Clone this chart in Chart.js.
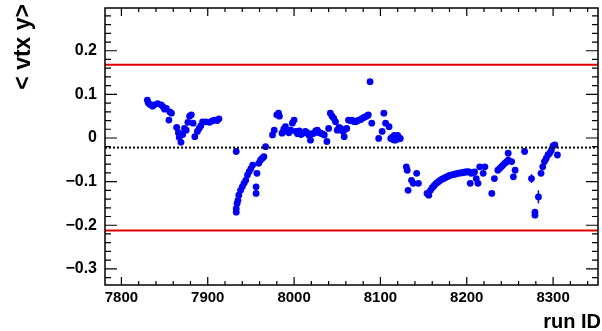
<!DOCTYPE html>
<html>
<head>
<meta charset="utf-8">
<script src="https://cdn.jsdelivr.net/npm/chart.js@4/dist/chart.umd.min.js"></script>
<style>
	body { margin: 0; background: #fff; }
</style>
</head>
<body>
<canvas id="plot" width="602" height="331"></canvas>
<script>
// run numbers and mean vertex y
const runs = [
	7830, 7831, 7833, 7836, 7838, 7842, 7846, 7848, 7850, 7852, 7855, 7856, 7858,
	7864, 7866, 7867, 7869, 7871, 7873, 7875, 7877, 7879, 7881, 7883, 7885, 7888,
	7890, 7892, 7894, 7898, 7902, 7905, 7908, 7911, 7913,
	7933, 7933, 7933, 7934, 7935, 7936, 7938, 7940, 7942, 7944, 7946, 7948, 7950,
	7952, 7956, 7956, 7957, 7959, 7961, 7963, 7965, 7967,
	7975, 7977, 7980, 7982, 7983, 7986, 7988, 7990, 7992, 7994, 7996, 7998, 8000,
	8002, 8004, 8006, 8008, 8010, 8013, 8015, 8017, 8019, 8021, 8023, 8025, 8027,
	8029, 8031, 8033, 8035, 8038, 8040, 8042, 8044, 8046, 8048, 8050, 8052, 8054,
	8056, 8058, 8058, 8061, 8063, 8065, 8067, 8069, 8071, 8073, 8075, 8077, 8079,
	8081, 8083, 8085, 8086, 8088, 8090, 8098, 8102, 8104, 8106, 8110, 8112, 8114,
	8115, 8116, 8117, 8118, 8119, 8120, 8121, 8122, 8123,
	8130, 8131, 8132, 8136, 8138, 8142, 8144, 8154, 8156, 8158, 8160, 8162, 8164,
	8166, 8168, 8170, 8172, 8174, 8176, 8178, 8180, 8182, 8184, 8186, 8188, 8190,
	8192, 8194, 8196, 8198, 8200, 8202, 8204, 8205, 8207, 8209, 8211, 8213, 8215,
	8219, 8221, 8229, 8232, 8236, 8238, 8240, 8242, 8244, 8246, 8248, 8248, 8252,
	8254, 8256, 8267, 8275, 8279, 8279, 8283, 8286, 8288, 8290, 8292, 8294, 8296,
	8298, 8300, 8302, 8305
];

const vtxY = [
	0.087, 0.081, 0.077, 0.073, 0.076, 0.079, 0.076, 0.072, 0.066, 0.068, 0.041, 0.060, 0.057,
	0.024, 0.012, 0.001, -0.010, 0.008, 0.022, 0.018, 0.036, 0.050, 0.053, 0.034, 0.003, 0.015,
	0.022, 0.028, 0.037, 0.037, 0.036, 0.039, 0.041, 0.040, 0.044,
	-0.031, -0.170, -0.162, -0.150, -0.143, -0.131, -0.120, -0.112, -0.104, -0.097, -0.085, -0.077, -0.070,
	-0.062, -0.112, -0.127, -0.081, -0.058, -0.051, -0.047, -0.043, -0.020,
	0.007, 0.018, 0.053, 0.057, 0.050, 0.011, 0.020, 0.026, 0.015, 0.012, 0.018, 0.034, 0.041,
	0.015, 0.010, 0.016, 0.008, 0.011, 0.015, 0.012, 0.007, -0.005, 0.010, 0.011, 0.016, 0.018,
	0.012, 0.011, 0.009, 0.007, -0.008, 0.022, 0.057, 0.050, 0.045, 0.037, 0.018, 0.024, 0.022,
	0.016, 0.018, 0.003, 0.022, 0.041, 0.040, 0.041, 0.038, 0.037, 0.039, 0.041, 0.042, 0.045,
	0.047, 0.049, 0.051, 0.053, 0.129, 0.034, -0.001, 0.015, 0.057, 0.034, 0.026, -0.001, 0.002,
	-0.004, 0.006, -0.005, 0.003, -0.003, 0.006, 0.000, -0.002, -0.001,
	-0.066, -0.074, -0.120, -0.097, -0.104, -0.081, -0.104, -0.127, -0.131, -0.120, -0.114, -0.110, -0.105,
	-0.102, -0.099, -0.096, -0.094, -0.092, -0.090, -0.088, -0.086, -0.085, -0.084, -0.083, -0.082, -0.081,
	-0.080, -0.080, -0.079, -0.078, -0.078, -0.077, -0.104, -0.081, -0.079, -0.078, -0.093, -0.104, -0.066,
	-0.081, -0.066, -0.127, -0.093, -0.074, -0.070, -0.066, -0.062, -0.058, -0.055, -0.051, -0.035, -0.054,
	-0.089, -0.074, -0.031, -0.093, -0.170, -0.177, -0.135, -0.081, -0.066, -0.054, -0.047, -0.039, -0.035,
	-0.028, -0.018, -0.016, -0.039
];

// the few points whose error bars stick out of the marker
const errRuns = [8275, 8283];
const errVals = [-0.093, -0.135];
const errSize = [0.010, 0.015];

const meanY = -0.022;
const limitHigh = 0.168;
const limitLow = -0.212;

const xTicks = [7800, 7900, 8000, 8100, 8200, 8300];
const yTicks = [-0.3, -0.2, -0.1, 0, 0.1, 0.2];

const xMin = 7781, xMax = 8352;
const yMin = -0.337, yMax = 0.298;

const font = 'Liberation Sans, Arial, Helvetica, sans-serif';

function hline(y)
{
	return [{ x: xMin, y: y }, { x: xMax, y: y }];
}

// ROOT style frame with ticks on the inside of all four sides
const framePlugin =
{
	id: 'frame',
	afterDraw(chart)
	{
		const c = chart.ctx;
		const a = chart.chartArea;
		const sx = chart.scales.x;
		const sy = chart.scales.y;

		c.save();

		// error bars
		c.strokeStyle = '#0000ff';
		c.lineWidth = 1.5;
		for (let i = 0; i < errRuns.length; ++i)
		{
			const px = sx.getPixelForValue(errRuns[i]);
			c.beginPath();
			c.moveTo(px, sy.getPixelForValue(errVals[i] - errSize[i]));
			c.lineTo(px, sy.getPixelForValue(errVals[i] + errSize[i]));
			c.stroke();
		}

		c.strokeStyle = '#000';
		c.lineWidth = 1.5;
		c.strokeRect(a.left, a.top, a.right - a.left, a.bottom - a.top);

		c.lineWidth = 1.2;
		c.beginPath();
		for (let v = 7800; v <= xMax; v += 20)
		{
			const px = sx.getPixelForValue(v);
			const len = (v % 100 == 0) ? 8 : 4;
			c.moveTo(px, a.bottom); c.lineTo(px, a.bottom - len);
			c.moveTo(px, a.top); c.lineTo(px, a.top + len);
		}
		for (let k = -16; k <= 14; ++k)
		{
			const py = sy.getPixelForValue(k * 0.02);
			const len = (k % 5 == 0) ? 12 : 6;
			c.moveTo(a.left, py); c.lineTo(a.left + len, py);
			c.moveTo(a.right, py); c.lineTo(a.right - len, py);
		}
		c.stroke();

		// axis titles
		c.fillStyle = '#000';
		c.font = 'bold 20px ' + font;
		c.textAlign = 'right';
		c.textBaseline = 'alphabetic';
		c.fillText('run ID', 601, 328);

		c.font = 'bold 23px ' + font;
		c.translate(30, 4);
		c.rotate(-Math.PI / 2);
		c.textAlign = 'right';
		c.fillText('< vtx y>', 0, 0);

		c.restore();
	}
};

const points = runs.map((r, i) => ({ x: r, y: vtxY[i] }));

new Chart(document.getElementById('plot'),
{
	type: 'scatter',
	data:
	{
		datasets:
		[
			{
				data: hline(meanY), showLine: true, pointRadius: 0,
				borderColor: '#000', borderWidth: 2, borderDash: [2, 2]
			},
			{
				data: hline(limitHigh), showLine: true, pointRadius: 0,
				borderColor: '#e00000', borderWidth: 2
			},
			{
				data: hline(limitLow), showLine: true, pointRadius: 0,
				borderColor: '#e00000', borderWidth: 2
			},
			{
				data: points, pointRadius: 3.4, borderWidth: 0,
				backgroundColor: '#0000ff', borderColor: '#0000ff'
			}
		]
	},
	options:
	{
		responsive: false,
		animation: false,
		devicePixelRatio: 1,
		layout: { padding: { top: 8, right: 1, left: 0, bottom: 0 } },
		plugins: { legend: { display: false }, tooltip: { enabled: false } },
		scales:
		{
			x:
			{
				type: 'linear', min: xMin, max: xMax,
				grid: { display: false, drawTicks: false },
				border: { display: false },
				afterBuildTicks: s => { s.ticks = xTicks.map(v => ({ value: v })); },
				afterFit: s => { s.height = 46; s.paddingLeft = 0; s.paddingRight = 0; },
				ticks:
				{
					color: '#000', padding: 4, maxRotation: 0,
					font: { family: font, size: 15, weight: 'bold' },
					callback: v => String(v)
				}
			},
			y:
			{
				type: 'linear', min: yMin, max: yMax,
				grid: { display: false, drawTicks: false },
				border: { display: false },
				afterBuildTicks: s => { s.ticks = yTicks.map(v => ({ value: v })); },
				afterFit: s => { s.width = 105; s.paddingTop = 0; s.paddingBottom = 0; },
				ticks:
				{
					color: '#000', padding: 8,
					font: { family: font, size: 16, weight: 'bold' },
					callback: v => (v < 0 ? '\u2212' : '') + String(Math.abs(Math.round(v * 10) / 10))
				}
			}
		}
	},
	plugins: [framePlugin]
});
</script>
</body>
</html>
